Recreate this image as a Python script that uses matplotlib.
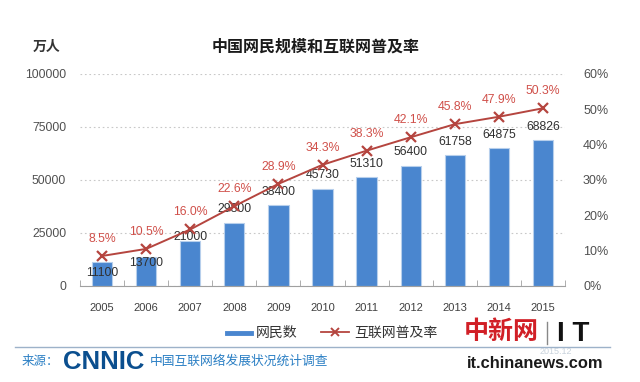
import matplotlib
matplotlib.use("Agg")
import matplotlib.pyplot as plt
from matplotlib.lines import Line2D
import numpy as np

plt.rcParams['font.family'] = ['Liberation Sans', 'Noto Sans CJK SC', 'DejaVu Sans']

# ---- data ----
years = ['2005', '2006', '2007', '2008', '2009', '2010', '2011', '2012', '2013', '2014', '2015']
users = [11100, 13700, 21000, 29800, 38400, 45730, 51310, 56400, 61758, 64875, 68826]
rate = [8.5, 10.5, 16.0, 22.6, 28.9, 34.3, 38.3, 42.1, 45.8, 47.9, 50.3]
left_ticks = [0, 25000, 50000, 75000, 100000]
right_ticks = [0, 10, 20, 30, 40, 50, 60]
title = '中国网民规模和互联网普及率'
unit = '万人'
legend_labels = ['网民数', '互联网普及率']

# label placement tweaks (pixels above bar top)
bar_label_dy = [-10.5, -6, 4.5, 13.5, 13, 14, 13, 14, 13, 13.5, 13]

BAR = '#4a86cf'
LINE = '#b5453f'
PCT = '#d0504a'

W, H = 640, 382
fig = plt.figure(figsize=(6.4, 3.82), dpi=100)
fig.patch.set_facecolor('white')

def fx(x):
    return x / W

def fy(y):
    return 1 - y / H

ax = fig.add_axes([fx(80), fy(286), fx(565) - fx(80), fy(74) - fy(286)])
ax2 = ax.twinx()

x = np.arange(len(years))
ax.bar(x, users, width=0.46, color=BAR, edgecolor='#b7cfec', linewidth=0.8, zorder=2)
ax.set_xlim(-0.5, len(years) - 0.5)
ax.set_ylim(0, 100000)
ax.set_yticks(left_ticks)
ax.set_yticklabels([str(v) for v in left_ticks], fontsize=8.8, color='#505050')
ax.tick_params(axis='y', length=0, pad=10)
ax.yaxis.grid(True, linestyle=(0, (1.5, 2.5)), color='#c8c8c8', linewidth=0.8, zorder=0)
ax.set_axisbelow(True)

ax.set_xticks(x)
ax.set_xticklabels(years, fontsize=8, color='#404040')
ax.tick_params(axis='x', length=0, pad=12)
ax.set_xticks(np.arange(-0.5, len(years), 1.0), minor=True)
ax.tick_params(axis='x', which='minor', length=4, direction='in', color='#a0a0a0')

for s in ['top', 'right', 'left']:
    ax.spines[s].set_visible(False)
ax.spines['bottom'].set_color('#a0a0a0')
for s in ['top', 'right', 'left', 'bottom']:
    ax2.spines[s].set_visible(False)

for i, v in enumerate(users):
    ax.annotate(str(v), (x[i], v), xytext=(0, bar_label_dy[i]), textcoords='offset pixels',
                ha='center', va='center', fontsize=8.8, color='#303030', zorder=5)

ax2.plot(x, rate, color=LINE, linewidth=1.4, marker='x', markersize=7,
         markeredgewidth=1.6, zorder=4)
ax2.set_ylim(0, 60)
ax2.set_yticks(right_ticks)
ax2.set_yticklabels([f'{v}%' for v in right_ticks], fontsize=9, color='#505050')
ax2.tick_params(axis='y', length=0, pad=13)
for i, v in enumerate(rate):
    ax2.annotate(f'{v:.1f}%', (x[i], v), xytext=(0, 17), textcoords='offset pixels',
                 ha='center', va='center', fontsize=8.8, color=PCT)

# title and unit
fig.text(fx(316), fy(47), title, fontsize=11.5, fontweight='bold', ha='center', va='center',
         color='#1a1a1a')
fig.text(fx(47), fy(47), unit, fontsize=10, ha='center', va='center', color='#333333',
         fontweight='bold')

# legend (manual)
fig.add_artist(Line2D([fx(227), fx(251)], [fy(333), fy(333)], color=BAR, linewidth=3.5))
fig.text(fx(256), fy(333), legend_labels[0], fontsize=10, ha='left', va='center', color='#333333')
fig.add_artist(Line2D([fx(321), fx(349)], [fy(332), fy(332)], color=LINE, linewidth=1.3))
fig.add_artist(Line2D([fx(335)], [fy(332)], color=LINE, marker='x', markersize=6,
                      markeredgewidth=1.4))
fig.text(fx(354), fy(333), legend_labels[1], fontsize=10, ha='left', va='center', color='#333333')

# footer
fig.add_artist(Line2D([fx(15), fx(610)], [fy(347), fy(347)], color='#9db2c9', linewidth=1.0))
fig.text(fx(22), fy(362), '来源：', fontsize=9, ha='left', va='center', color='#2a7fc4')
fig.text(fx(63), fy(362), 'CNNIC', fontsize=18.5, fontweight='heavy', ha='left', va='center',
         color='#0b4f8f')
fig.text(fx(150), fy(362), '中国互联网络发展状况统计调查', fontsize=9.2, ha='left', va='center',
         color='#2a7fc4')
fig.text(fx(464), fy(332), '中新网', fontsize=18, fontweight='bold', ha='left', va='center',
         color='#d11f26', family=['Noto Sans CJK SC'])
fig.add_artist(Line2D([fx(547), fx(547)], [fy(322), fy(344)], color='#888888', linewidth=1.0))
fig.text(fx(557), fy(334), 'I T', fontsize=20, fontweight='heavy', ha='left', va='center',
         color='#111111')
fig.text(fx(540), fy(351), '2015.12', fontsize=6.5, ha='left', va='center', color='#c8d2dc')
fig.text(fx(467), fy(363), 'it.chinanews.com', fontsize=11.8, fontweight='bold', ha='left',
         va='center', color='#1a1a1a')

fig.savefig('out.png', dpi=100)
